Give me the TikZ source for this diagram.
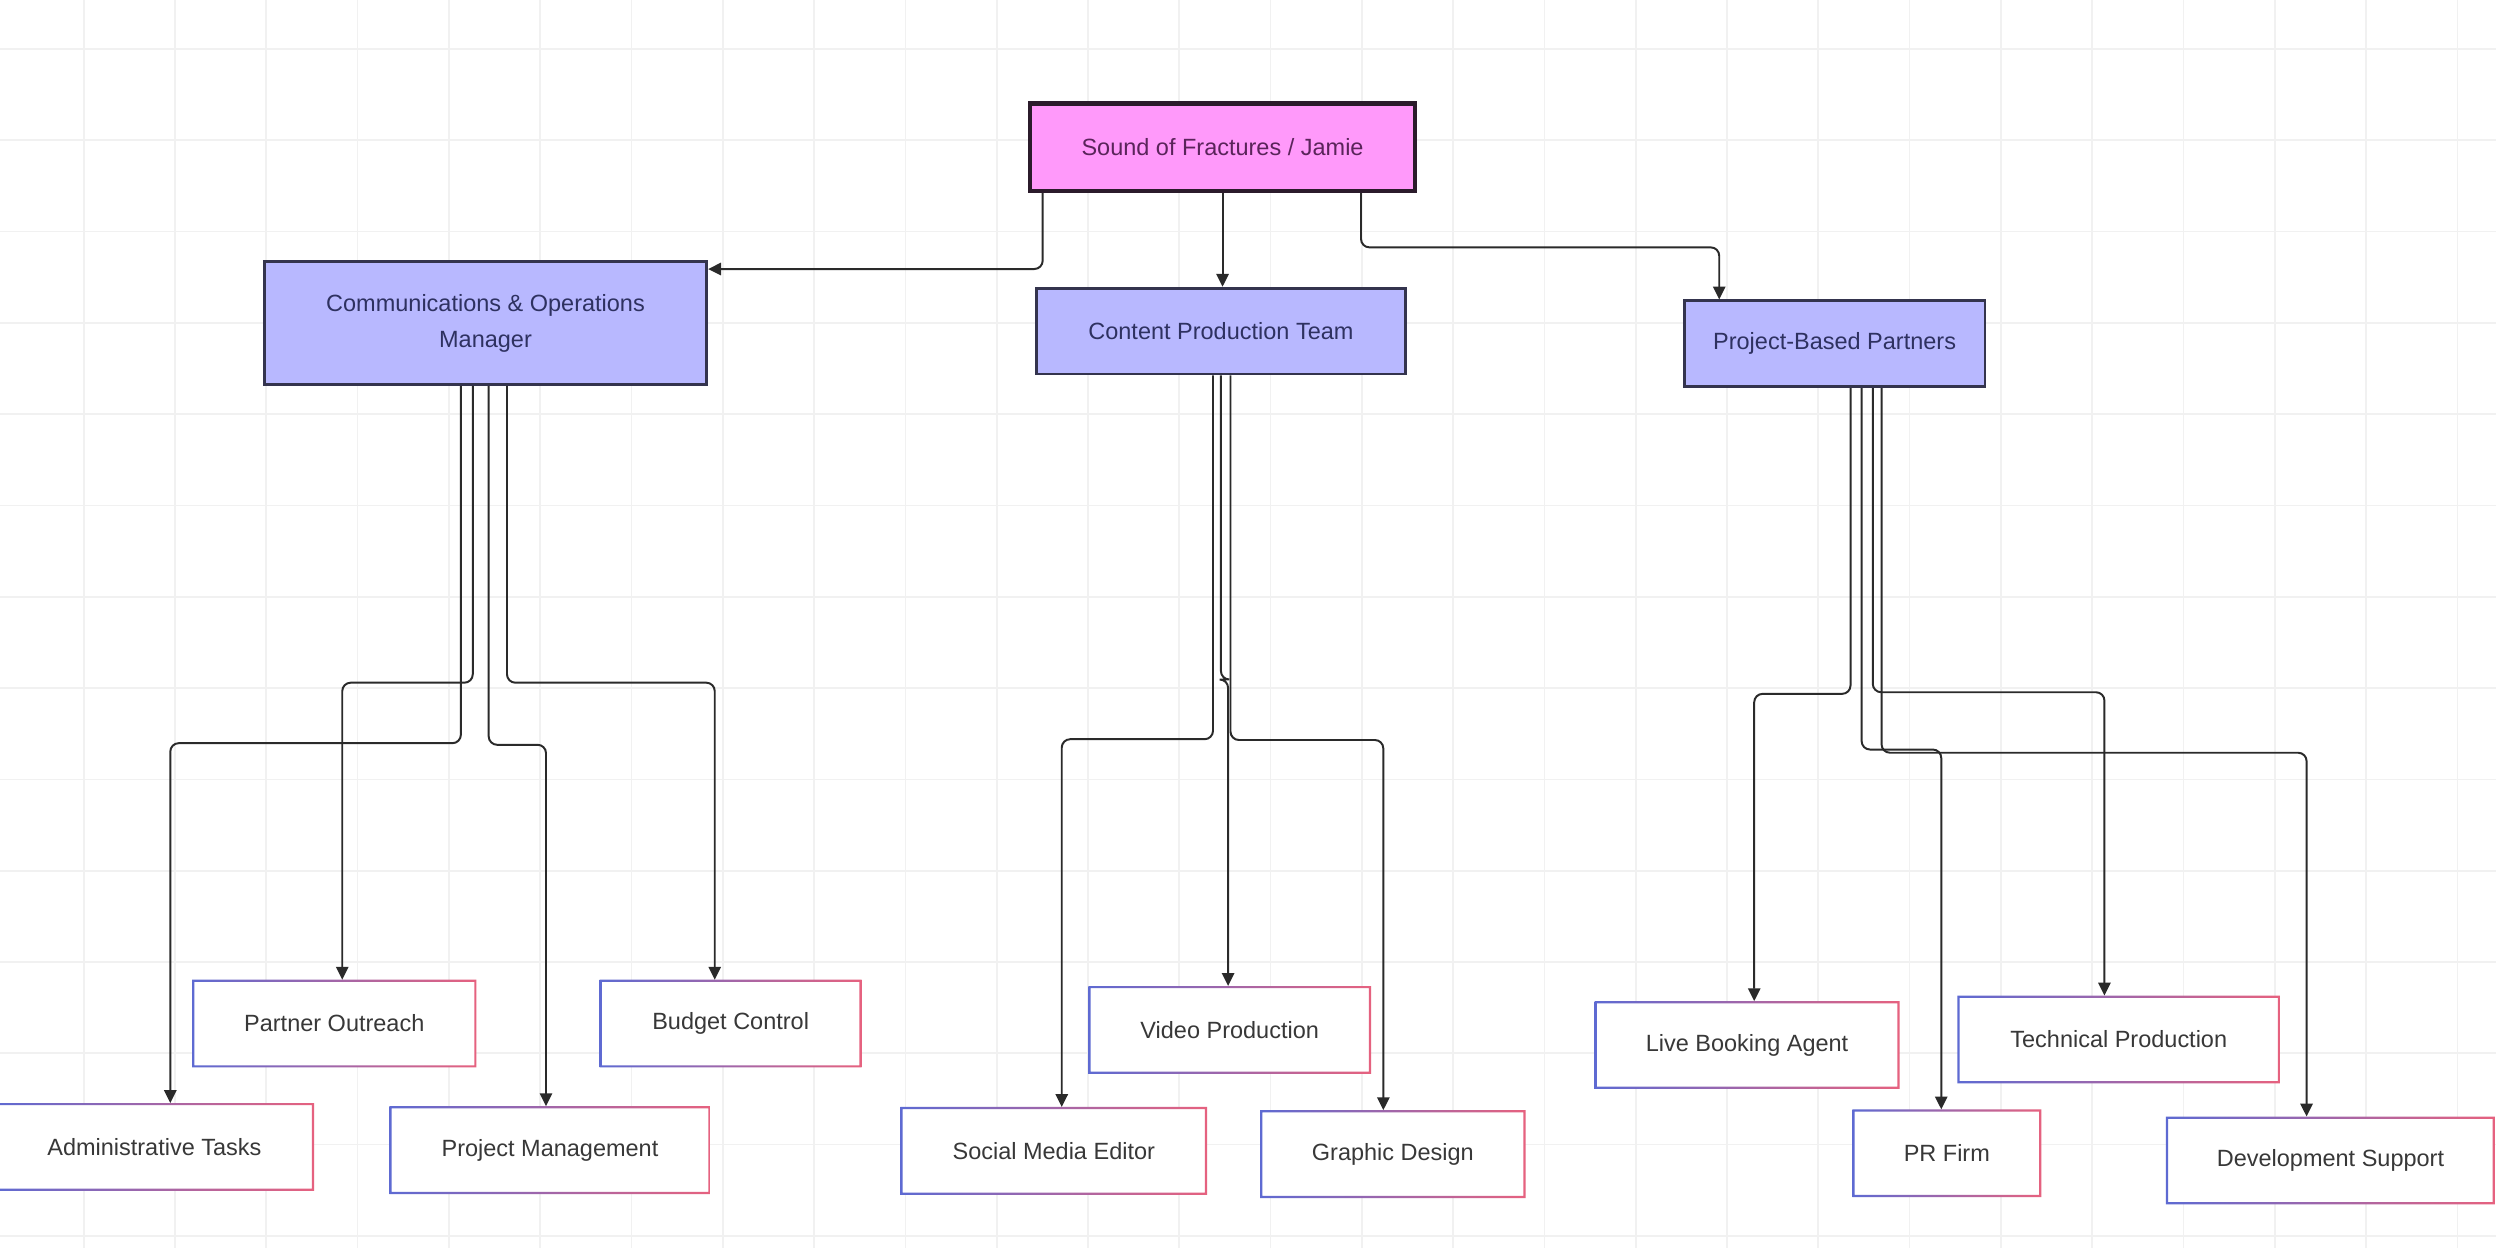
\documentclass[tikz,border=0pt]{standalone}
\usepackage{fontspec}
\setmainfont{Liberation Sans}
\usetikzlibrary{arrows.meta,calc}

\definecolor{rootfill}{HTML}{FF99FA}
\definecolor{rootdraw}{HTML}{2B1B2B}
\definecolor{roottext}{HTML}{5A245A}
\definecolor{teamfill}{HTML}{B8B8FF}
\definecolor{teamdraw}{HTML}{34344E}
\definecolor{teamtext}{HTML}{2E3160}
\definecolor{leaftext}{HTML}{383838}
\definecolor{leafblue}{HTML}{5E6AD2}
\definecolor{leafpink}{HTML}{E6627F}
\definecolor{linkcol}{HTML}{2A2A2A}
\definecolor{gridcol}{HTML}{F1F1F1}

\begin{document}
\begin{tikzpicture}[x=0.02cm,y=-0.02cm]
	\tikzset{
	  basic/.style   = {rectangle, inner sep=0pt, align=center,
	                    font=\fontsize{8.4}{13}\selectfont},
	  root/.style    = {basic, draw=rootdraw, line width=1.6pt, fill=rootfill,
	                    text=roottext, minimum height=1.1cm},
	  level 2/.style = {basic, draw=teamdraw, line width=1pt, fill=teamfill,
	                    text=teamtext, minimum height=1.08cm},
	  level 3/.style = {basic, fill=white, text=leaftext, minimum height=1.09cm},
	  link/.style    = {draw=linkcol, line width=0.7pt, rounded corners=3pt,
	                    -{Triangle[length=4.6pt,width=4.4pt]}},
	  grid line/.style = {draw=gridcol, line width=0.6pt}
	}

	\useasboundingbox[fill=white] (0,0) rectangle (1568,784);
	% background grid
	\foreach \k in {0,...,26}
	  \draw[grid line] ({52.6+57.35*\k},0) -- ({52.6+57.35*\k},784);
	\foreach \k in {0,...,13}
	  \draw[grid line] (0,{30.8+57.35*\k}) -- (1568,{30.8+57.35*\k});

	% top and the three teams
	\node[root, minimum width=4.84cm] (jamie) at (768,92.5) {Sound of Fractures / Jamie};
	\node[level 2, minimum width=5.56cm, minimum height=1.54cm] (comm) at (305,203)
	  {Communications \& Operations\\Manager};
	\node[level 2, minimum width=4.64cm] (content) at (767,208) {Content Production Team};
	\node[level 2, minimum width=3.78cm] (partners) at (1152.5,216) {Project-Based Partners};

	% the tasks and roles under each team
	\node[level 3, minimum width=4.0cm] (admin) at (97,720.5) {Administrative Tasks};
	\node[level 3, minimum width=3.56cm] (outreach) at (210,643) {Partner Outreach};
	\node[level 3, minimum width=4.02cm] (projmgmt) at (345.5,722.5) {Project Management};
	\node[level 3, minimum width=3.28cm] (budget) at (459,643) {Budget Control};
	\node[level 3, minimum width=3.54cm] (video) at (772.5,647) {Video Production};
	\node[level 3, minimum width=3.84cm] (social) at (662,723) {Social Media Editor};
	\node[level 3, minimum width=3.32cm] (graphic) at (875,725) {Graphic Design};
	\node[level 3, minimum width=3.82cm] (booking) at (1097.5,656.5) {Live Booking Agent};
	\node[level 3, minimum width=4.04cm] (technical) at (1331,653) {Technical Production};
	\node[level 3, minimum width=2.36cm] (prfirm) at (1223,724.5) {PR Firm};
	\node[level 3, minimum width=4.12cm] (devsupport) at (1464,729) {Development Support};

	% blue to pink frames of the lower boxes
	\foreach \n in {admin,outreach,projmgmt,budget,video,social,graphic,
	                booking,technical,prfirm,devsupport}
	  \shade[left color=leafblue, right color=leafpink, even odd rule]
	    (\n.south west) rectangle (\n.north east)
	    ([shift={(0.8pt,0.8pt)}]\n.south west) rectangle ([shift={(-0.8pt,-0.8pt)}]\n.north east);

	% links from the top
	\draw[link] ([xshift=-2.26cm]jamie.south) |- ([yshift=0.68cm]comm.east);
	\draw[link] (jamie.south) -- (jamie.south |- content.north);
	\draw[link] ([xshift=1.74cm]jamie.south) -- ++(0,34) -| ([xshift=-1.45cm]partners.north);

	% links from the teams
	\draw[link] ([xshift=-0.31cm]comm.south) -- ++(0,224.5) -| ([xshift=0.2cm]admin.north);
	\draw[link] ([xshift=-0.16cm]comm.south) -- ++(0,186.5) -| ([xshift=0.1cm]outreach.north);
	\draw[link] ([xshift=0.04cm]comm.south) -- ++(0,225.5) -| ([xshift=-0.05cm]projmgmt.north);
	\draw[link] ([xshift=0.27cm]comm.south) -- ++(0,186.5) -| ([xshift=-0.2cm]budget.north);

	\draw[link] ([xshift=-0.1cm]content.south) -- ++(0,228.5) -| ([xshift=0.1cm]social.north);
	\draw[link] (content.south) -- ++(0,191) -| ([xshift=-0.02cm]video.north);
	\draw[link] ([xshift=0.12cm]content.south) -- ++(0,229) -| ([xshift=-0.12cm]graphic.north);

	\draw[link] ([xshift=0.2cm]partners.south) -- ++(0,192) -| ([xshift=0.09cm]booking.north);
	\draw[link] ([xshift=0.34cm]partners.south) -- ++(0,227) -| ([xshift=-0.07cm]prfirm.north);
	\draw[link] ([xshift=0.48cm]partners.south) -- ++(0,191) -| ([xshift=-0.18cm]technical.north);
	\draw[link] ([xshift=0.59cm]partners.south) -- ++(0,229) -| ([xshift=-0.3cm]devsupport.north);
\end{tikzpicture}
\end{document}
